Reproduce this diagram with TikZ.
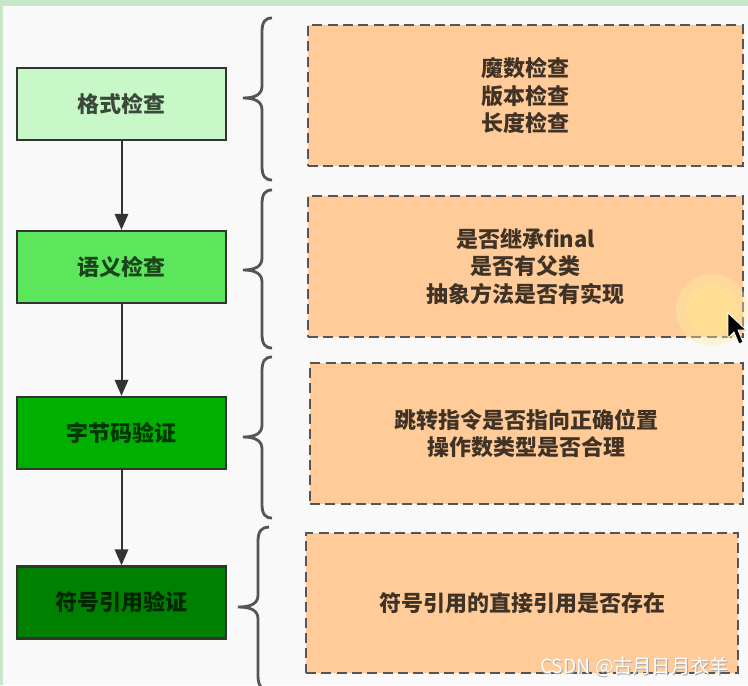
\documentclass[tikz,border=0pt]{standalone}
\usepackage{fontspec}
\newfontfamily\cjk{Noto Sans CJK SC}
\usetikzlibrary{arrows.meta}
\definecolor{bgc}{HTML}{F9F9F9}
\definecolor{barc}{HTML}{C8E6C9}
\definecolor{gA}{HTML}{C8F7C8}
\definecolor{gB}{HTML}{5BE65B}
\definecolor{gC}{HTML}{00B000}
\definecolor{gD}{HTML}{008000}
\definecolor{orc}{HTML}{FFCC99}
\definecolor{dashc}{HTML}{555555}
\definecolor{edgec}{HTML}{333333}
\tikzset{
  stepbox/.style={draw=edgec, line width=1.7pt, minimum width=156.75pt, minimum height=54pt,
    inner sep=0pt, font=\cjk\bfseries\fontsize{16.5}{20}\selectfont, text=black, text opacity=0.7},
  notebox/.style={draw=dashc, fill=orc, line width=2.2pt, dash pattern=on 7.5pt off 4pt,
    inner sep=0pt, align=center, font=\cjk\bfseries\fontsize{16.5}{20.6}\selectfont, text=black, text opacity=0.75},
  flow/.style={draw=edgec, line width=1.5pt, -{Triangle[width=10pt,length=12pt]}},
  bracec/.style={draw=dashc, line width=2.1pt}
}
\begin{document}
\begin{tikzpicture}[x=0.75pt,y=-0.75pt]
\fill[bgc] (0,0) rectangle (748,685);
\useasboundingbox (0,0) rectangle (748,685);
\fill[barc] (0,0) rectangle (748,6);
\fill[barc] (0,0) rectangle (3,685);

% left boxes
\node[stepbox, fill=gA] (s1) at (121.5,104) {格式检查};
\node[stepbox, fill=gB] (s2) at (121.5,267) {语义检查};
\node[stepbox, fill=gC] (s3) at (121.5,433) {字节码验证};
\node[stepbox, fill=gD] (s4) at (121.5,602.5) {符号引用验证};

\draw[flow] (s1) -- (s2);
\draw[flow] (s2) -- (s3);
\draw[flow] (s3) -- (s4);

% braces
\draw[bracec] (272,18) .. controls (265,18) and (262,22) .. (262,32) -- (262,86) .. controls (262,94) and (256,98) .. (243,98) .. controls (256,98) and (262,102) .. (262,110) -- (262,166) .. controls (262,176) and (265,180) .. (272,180);
\draw[bracec] (272,190) .. controls (265,190) and (262,194) .. (262,204) -- (262,258) .. controls (262,266) and (256,270) .. (243,270) .. controls (256,270) and (262,274) .. (262,282) -- (262,334) .. controls (262,344) and (265,348) .. (272,348);
\draw[bracec] (272,357) .. controls (265,357) and (262,361) .. (262,371) -- (262,425) .. controls (262,433) and (256,437) .. (243,437) .. controls (256,437) and (262,441) .. (262,449) -- (262,504) .. controls (262,514) and (265,518) .. (272,518);
\draw[bracec] (269,527) .. controls (262,527) and (258,531) .. (258,541) -- (258,595) .. controls (258,603) and (252,607) .. (238,607) .. controls (252,607) and (258,611) .. (258,619) -- (258,676) .. controls (258,686) and (262,690) .. (269,690);

% note boxes
\node[notebox, minimum width=326.25pt, minimum height=105.75pt] (n1) at (525.5,95.5) {魔数检查\\版本检查\\长度检查};
\node[notebox, minimum width=326.25pt, minimum height=105.75pt] (n2) at (525.5,266.5) {是否继承final\\是否有父类\\抽象方法是否有实现};
\node[notebox, minimum width=324.75pt, minimum height=105.75pt] (n3) at (526.5,433.5) {跳转指令是否指向正确位置\\操作数类型是否合理};
\node[notebox, minimum width=324pt, minimum height=105pt] (n4) at (522,603) {符号引用的直接引用是否存在};

% cursor halo and pointer
\fill[yellow!70!orange!35, opacity=0.4] (712,310) circle (36);
\fill[yellow!70!orange!45, opacity=0.4] (712,310) circle (26);
\filldraw[fill=black, draw=white, line width=0.6pt] (728,313) -- (728,338) -- (734,332) -- (739,344) -- (743,342) -- (738,330) -- (746,330) -- cycle;

% watermark
\node[font=\cjk\fontsize{14.5}{16}\selectfont, text=gray!70, anchor=east] at (734.8,667.8) {CSDN @古月日月衣羊};
\node[font=\cjk\fontsize{14.5}{16}\selectfont, text=white, anchor=east] (wm) at (734,667) {CSDN @古月日月衣羊};
\end{tikzpicture}
\end{document}
